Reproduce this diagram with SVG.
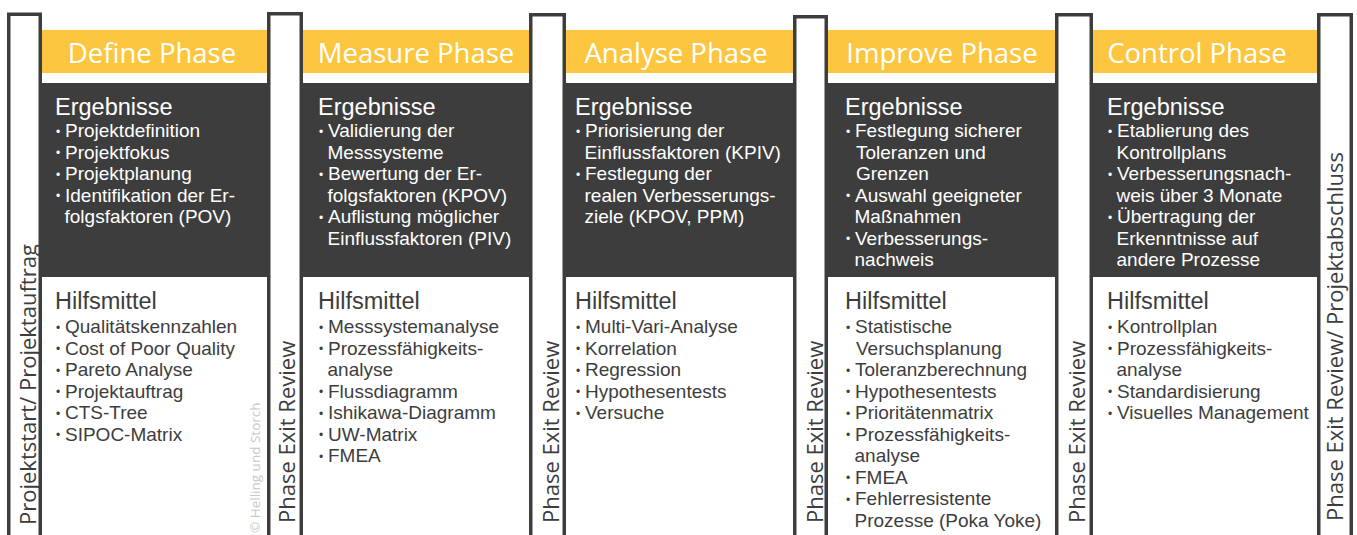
<svg xmlns="http://www.w3.org/2000/svg" width="1357" height="535" viewBox="0 0 1357 535">
<style>
text{font-family:"Open Sans","Noto Sans","Liberation Sans",sans-serif}
.hd{font-size:27.5px;fill:#fff;text-anchor:middle}
.blk{font-family:"Liberation Sans",Arial,sans-serif;font-size:19px}
.sec{font-size:23.5px}
.bu{font-size:12px}
.w{fill:#fff}
.d{fill:#3d3d3d}
.vt{font-size:22px;fill:#3d3d3d}
.bar{fill:#fff;stroke:#3d3d3d;stroke-width:3.5}
.wm{font-size:13.5px;fill:#c8c8c8}
</style>
<rect width="1357" height="535" fill="#fff"/>
<g id="bands">
<rect x="42" y="30" width="1275" height="43" fill="#fdc640"/>
<rect x="42" y="83" width="1275" height="194" fill="#3d3d3d"/>
</g>

<g id="col-define" transform="translate(55,0)">
<text class="hd" x="97" y="63">Define Phase</text>
<text class="blk w"><tspan class="sec" x="0" y="114.5">Ergebnisse</tspan><tspan class="bu" x="1" y="135.5">•</tspan><tspan x="10" y="137">Projektdefinition</tspan><tspan class="bu" x="1" y="157">•</tspan><tspan x="10" y="158.5">Projektfokus</tspan><tspan class="bu" x="1" y="178.5">•</tspan><tspan x="10" y="180">Projektplanung</tspan><tspan class="bu" x="1" y="200">•</tspan><tspan x="10" y="201.5">Identifikation der Er-</tspan><tspan x="9.5" y="223">folgsfaktoren (POV)</tspan></text>
<text class="blk d"><tspan class="sec" x="0" y="309">Hilfsmittel</tspan><tspan class="bu" x="1" y="331.5">•</tspan><tspan x="10" y="333">Qualitätskennzahlen</tspan><tspan class="bu" x="1" y="353">•</tspan><tspan x="10" y="354.5">Cost of Poor Quality</tspan><tspan class="bu" x="1" y="374.5">•</tspan><tspan x="10" y="376">Pareto Analyse</tspan><tspan class="bu" x="1" y="396">•</tspan><tspan x="10" y="397.5">Projektauftrag</tspan><tspan class="bu" x="1" y="417.5">•</tspan><tspan x="10" y="419">CTS-Tree</tspan><tspan class="bu" x="1" y="439">•</tspan><tspan x="10" y="440.5">SIPOC-Matrix</tspan></text>
</g>

<g id="col-measure" transform="translate(318,0)">
<text class="hd" x="98" y="63">Measure Phase</text>
<text class="blk w"><tspan class="sec" x="0" y="114.5">Ergebnisse</tspan><tspan class="bu" x="1" y="135.5">•</tspan><tspan x="10" y="137">Validierung der</tspan><tspan x="9.5" y="158.5">Messsysteme</tspan><tspan class="bu" x="1" y="178.5">•</tspan><tspan x="10" y="180">Bewertung der Er-</tspan><tspan x="9.5" y="201.5">folgsfaktoren (KPOV)</tspan><tspan class="bu" x="1" y="221.5">•</tspan><tspan x="10" y="223">Auflistung möglicher</tspan><tspan x="9.5" y="244.5">Einflussfaktoren (PIV)</tspan></text>
<text class="blk d"><tspan class="sec" x="0" y="309">Hilfsmittel</tspan><tspan class="bu" x="1" y="331.5">•</tspan><tspan x="10" y="333">Messsystemanalyse</tspan><tspan class="bu" x="1" y="353">•</tspan><tspan x="10" y="354.5">Prozessfähigkeits-</tspan><tspan x="9.5" y="376">analyse</tspan><tspan class="bu" x="1" y="396">•</tspan><tspan x="10" y="397.5">Flussdiagramm</tspan><tspan class="bu" x="1" y="417.5">•</tspan><tspan x="10" y="419">Ishikawa-Diagramm</tspan><tspan class="bu" x="1" y="439">•</tspan><tspan x="10" y="440.5">UW-Matrix</tspan><tspan class="bu" x="1" y="460.5">•</tspan><tspan x="10" y="462">FMEA</tspan></text>
</g>

<g id="col-analyse" transform="translate(575,0)">
<text class="hd" x="101" y="63">Analyse Phase</text>
<text class="blk w"><tspan class="sec" x="0" y="114.5">Ergebnisse</tspan><tspan class="bu" x="1" y="135.5">•</tspan><tspan x="10" y="137">Priorisierung der</tspan><tspan x="9.5" y="158.5">Einflussfaktoren (KPIV)</tspan><tspan class="bu" x="1" y="178.5">•</tspan><tspan x="10" y="180">Festlegung der</tspan><tspan x="9.5" y="201.5">realen Verbesserungs-</tspan><tspan x="9.5" y="223">ziele (KPOV, PPM)</tspan></text>
<text class="blk d"><tspan class="sec" x="0" y="309">Hilfsmittel</tspan><tspan class="bu" x="1" y="331.5">•</tspan><tspan x="10" y="333">Multi-Vari-Analyse</tspan><tspan class="bu" x="1" y="353">•</tspan><tspan x="10" y="354.5">Korrelation</tspan><tspan class="bu" x="1" y="374.5">•</tspan><tspan x="10" y="376">Regression</tspan><tspan class="bu" x="1" y="396">•</tspan><tspan x="10" y="397.5">Hypothesentests</tspan><tspan class="bu" x="1" y="417.5">•</tspan><tspan x="10" y="419">Versuche</tspan></text>
</g>

<g id="col-improve" transform="translate(845,0)">
<text class="hd" x="97" y="63">Improve Phase</text>
<text class="blk w"><tspan class="sec" x="0" y="114.5">Ergebnisse</tspan><tspan class="bu" x="1" y="135.5">•</tspan><tspan x="10" y="137">Festlegung sicherer</tspan><tspan x="11" y="158.5">Toleranzen und</tspan><tspan x="11" y="180">Grenzen</tspan><tspan class="bu" x="1" y="200">•</tspan><tspan x="10" y="201.5">Auswahl geeigneter</tspan><tspan x="9.5" y="223">Maßnahmen</tspan><tspan class="bu" x="1" y="243">•</tspan><tspan x="10" y="244.5">Verbesserungs-</tspan><tspan x="9.5" y="266">nachweis</tspan></text>
<text class="blk d"><tspan class="sec" x="0" y="309">Hilfsmittel</tspan><tspan class="bu" x="1" y="331.5">•</tspan><tspan x="10" y="333">Statistische</tspan><tspan x="11" y="354.5">Versuchsplanung</tspan><tspan class="bu" x="1" y="374.5">•</tspan><tspan x="10" y="376">Toleranzberechnung</tspan><tspan class="bu" x="1" y="396">•</tspan><tspan x="10" y="397.5">Hypothesentests</tspan><tspan class="bu" x="1" y="417.5">•</tspan><tspan x="10" y="419">Prioritätenmatrix</tspan><tspan class="bu" x="1" y="439">•</tspan><tspan x="10" y="440.5">Prozessfähigkeits-</tspan><tspan x="9.5" y="462">analyse</tspan><tspan class="bu" x="1" y="482">•</tspan><tspan x="10" y="483.5">FMEA</tspan><tspan class="bu" x="1" y="503.5">•</tspan><tspan x="10" y="505">Fehlerresistente</tspan><tspan x="9.5" y="526.5">Prozesse (Poka Yoke)</tspan></text>
</g>

<g id="col-control" transform="translate(1107,0)">
<text class="hd" x="90" y="63">Control Phase</text>
<text class="blk w"><tspan class="sec" x="0" y="114.5">Ergebnisse</tspan><tspan class="bu" x="1" y="135.5">•</tspan><tspan x="10" y="137">Etablierung des</tspan><tspan x="9.5" y="158.5">Kontrollplans</tspan><tspan class="bu" x="1" y="178.5">•</tspan><tspan x="10" y="180">Verbesserungsnach-</tspan><tspan x="9.5" y="201.5">weis über 3 Monate</tspan><tspan class="bu" x="1" y="221.5">•</tspan><tspan x="10" y="223">Übertragung der</tspan><tspan x="9.5" y="244.5">Erkenntnisse auf</tspan><tspan x="9.5" y="266">andere Prozesse</tspan></text>
<text class="blk d"><tspan class="sec" x="0" y="309">Hilfsmittel</tspan><tspan class="bu" x="1" y="331.5">•</tspan><tspan x="10" y="333">Kontrollplan</tspan><tspan class="bu" x="1" y="353">•</tspan><tspan x="10" y="354.5">Prozessfähigkeits-</tspan><tspan x="9.5" y="376">analyse</tspan><tspan class="bu" x="1" y="396">•</tspan><tspan x="10" y="397.5">Standardisierung</tspan><tspan class="bu" x="1" y="417.5">•</tspan><tspan x="10" y="419">Visuelles Management</tspan></text>
</g>

<g id="bar-start">
<rect class="bar" x="8.75" y="14.25" width="31.5" height="540"/>
<text class="vt" transform="translate(36,525) rotate(-90)">Projektstart/ Projektauftrag</text>
</g>
<g id="bar-review-1">
<rect class="bar" x="268.75" y="13.75" width="32.5" height="540"/>
<text class="vt" transform="translate(295,523) rotate(-90)">Phase Exit Review</text>
</g>
<g id="bar-review-2">
<rect class="bar" x="530.75" y="14.75" width="33.5" height="540"/>
<text class="vt" transform="translate(559,523) rotate(-90)">Phase Exit Review</text>
</g>
<g id="bar-review-3">
<rect class="bar" x="794.75" y="16.75" width="31.5" height="540"/>
<text class="vt" transform="translate(823,523) rotate(-90)">Phase Exit Review</text>
</g>
<g id="bar-review-4">
<rect class="bar" x="1056.75" y="14.75" width="34.5" height="540"/>
<text class="vt" transform="translate(1085,523) rotate(-90)">Phase Exit Review</text>
</g>
<g id="bar-end">
<rect class="bar" x="1318.75" y="14.75" width="32.5" height="540"/>
<text class="vt" transform="translate(1343,521) rotate(-90)">Phase Exit Review/ Projektabschluss</text>
</g>
<g id="connectors"/>
<text class="wm" transform="translate(260,533) rotate(-90)">© Helling und Storch</text>
</svg>
